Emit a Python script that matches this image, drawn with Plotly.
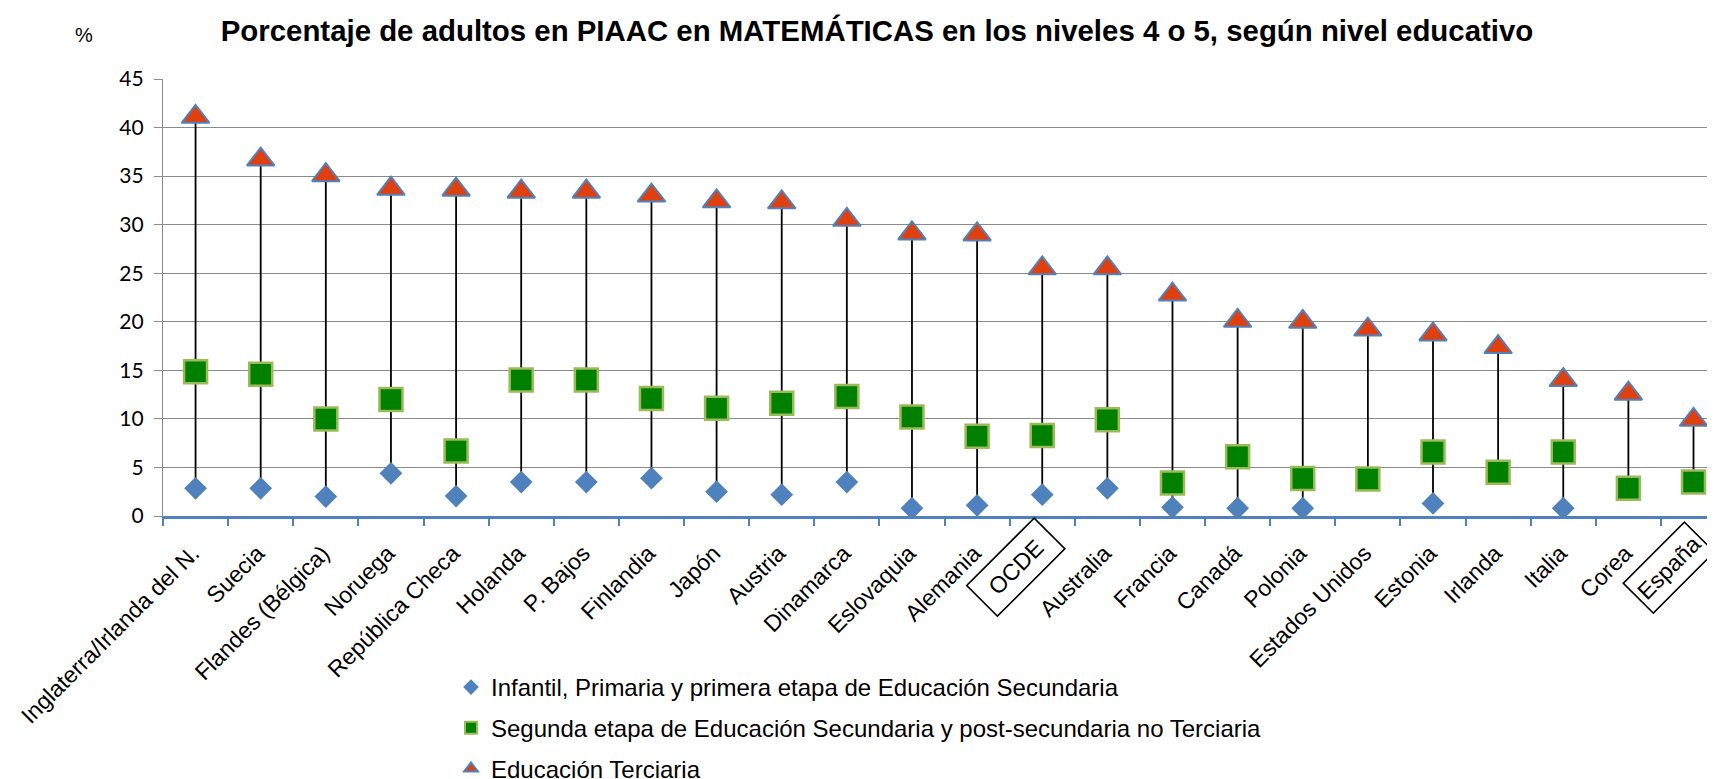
import plotly.graph_objects as go

categories = ["Inglaterra/Irlanda del N.", "Suecia", "Flandes (Bélgica)", "Noruega",
              "República Checa", "Holanda", "P. Bajos", "Finlandia", "Japón", "Austria",
              "Dinamarca", "Eslovaquia", "Alemania", "OCDE", "Australia", "Francia",
              "Canadá", "Polonia", "Estados Unidos", "Estonia", "Irlanda", "Italia",
              "Corea", "España"]
boxed = ["OCDE", "España"]

primaria = [2.85, 2.85, 2.0, 4.4, 2.05, 3.5, 3.5, 3.9, 2.5, 2.2, 3.5, 0.8, 1.1, 2.2,
            2.85, 0.9, 0.8, 0.8, None, 1.3, None, 0.8, None, None]
secundaria = [14.85, 14.6, 10.0, 12.0, 6.7, 14.0, 14.0, 12.1, 11.1, 11.6, 12.3, 10.2,
              8.2, 8.3, 9.9, 3.4, 6.1, 3.85, 3.8, 6.6, 4.5, 6.6, 2.85, 3.5]
terciaria = [41.1, 36.7, 35.1, 33.7, 33.6, 33.4, 33.4, 33.0, 32.4, 32.3, 30.5, 29.1,
             29.0, 25.5, 25.5, 22.8, 20.1, 20.0, 19.2, 18.7, 17.4, 14.0, 12.6, 9.9]

names = ["Infantil, Primaria y primera etapa de Educación Secundaria",
         "Segunda etapa de Educación Secundaria y post-secundaria no Terciaria",
         "Educación Terciaria"]
title = "Porcentaje de adultos en PIAAC en MATEMÁTICAS en los niveles 4 o 5, según nivel educativo"

FONT = "Liberation Sans"
# page has an 8px body margin, so the figure is offset by 8px
W, H = 1707, 771
L, T, B = 155, 71, 263

# high-low lines from min to max available value
hx, hy = [], []
for c, a, b, t in zip(categories, primaria, secundaria, terciaria):
    vals = [v for v in (a, b, t) if v is not None]
    hx += [c, c, None]
    hy += [min(vals), max(vals), None]

fig = go.Figure()
fig.add_trace(go.Scatter(x=hx, y=hy, mode="lines", line=dict(color="black", width=1.8),
                         showlegend=False, hoverinfo="skip"))
fig.add_trace(go.Scatter(x=categories, y=primaria, mode="markers", name=names[0],
                         legendgroup="a",
                         marker=dict(symbol="diamond", size=17.5, color="#4F81BD",
                                     line=dict(width=0))))
fig.add_trace(go.Scatter(x=categories, y=secundaria, mode="markers", name=names[1],
                         legendgroup="b",
                         marker=dict(symbol="square", size=23, color="#008000",
                                     line=dict(width=2.5, color="#9BBB59"))))
fig.add_trace(go.Scatter(x=categories, y=terciaria, mode="markers", name=names[2],
                         legendgroup="c",
                         marker=dict(symbol="triangle-up", size=24, color="#E0400E",
                                     line=dict(width=2, color="#4F81BD"))))

ticktext = ["" if c in boxed else c for c in categories]

fig.update_xaxes(type="category", categoryorder="array", categoryarray=categories,
                 range=[-0.5, 23.33], tickmode="array", tickvals=categories,
                 ticktext=ticktext, tickson="boundaries", ticks="outside", ticklen=7,
                 tickwidth=1.5, tickcolor="#4F81BD", showline=True, linecolor="#4F81BD",
                 linewidth=2.5, showgrid=False, tickangle=-45, automargin=False,
                 ticklabelstandoff=12, ticklabelshift=-3,
                 tickfont=dict(family=FONT, size=23, color="black"))
fig.update_yaxes(range=[0, 45], dtick=5, tick0=0, showgrid=True, gridcolor="#8A8A8A",
                 gridwidth=1.4, showline=True, linecolor="#8A8A8A", linewidth=1.4,
                 ticks="outside", ticklen=8, tickcolor="#8A8A8A", tickwidth=1.4,
                 zeroline=False, automargin=False, ticklabelstandoff=6,
                 tickfont=dict(family="Lato", size=21, color="black"))

shifts = {"OCDE": (-27, -51, 92, 40), "España": (-25, -52, 83, 39)}
for c in boxed:
    xs, ys, w, h = shifts[c]
    fig.add_annotation(x=c, y=0, xref="x", yref="paper", text=c, showarrow=False,
                       textangle=-45, xanchor="center", yanchor="middle",
                       xshift=xs, yshift=ys, width=w, height=h,
                       bordercolor="black", borderwidth=1.6, borderpad=1,
                       font=dict(family=FONT, size=23, color="black"))

fig.add_annotation(x=(76 - L) / (W - L), y=(H - B - 27) / (H - T - B), xref="paper",
                   yref="paper", text="%", showarrow=False, xanchor="center",
                   yanchor="middle", font=dict(family=FONT, size=20, color="black"))

fig.update_layout(
    width=W, height=H,
    margin=dict(l=L, r=0, t=T, b=B, pad=0, autoexpand=False),
    plot_bgcolor="white", paper_bgcolor="white",
    title=dict(text="<b>" + title + "</b>", x=869 / W, xref="container", xanchor="center",
               y=1 - 23 / H, yref="container", yanchor="middle",
               font=dict(family=FONT, size=29.4, color="black")),
    legend=dict(x=443 / W, xref="container", y=1 - 657 / H, yref="container",
                xanchor="left", yanchor="top", tracegroupgap=6.5, itemsizing="constant",
                bgcolor="rgba(0,0,0,0)",
                font=dict(family=FONT, size=24, color="black")),
    showlegend=True,
)

fig.write_html("out.html")
